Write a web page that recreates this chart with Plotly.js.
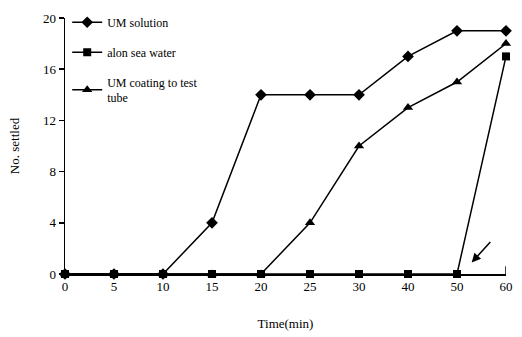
<!DOCTYPE html>
<html><head><meta charset="utf-8">
<script src="https://cdn.plot.ly/plotly-3.0.1.min.js"></script>
<style>html,body{margin:0;padding:0;background:#fff}</style>
</head><body>
<div id="chart" style="width:522px;height:337px"></div>
<script>
var timeLabels = ['0','5','10','15','20','25','30','40','50','60'];
var umSolution = [0,0,0,4,14,14,14,17,19,19];
var alonSeaWater = [0,0,0,0,0,0,0,0,0,17];
var umCoating = [0,0,0,0,0,4,10,13,15,18];
var seriesNames = ['UM solution','alon sea water','UM coating to test<br>tube'];

var idx = timeLabels.map(function(_, i){return i;});
function tr(y, name, sym, size, g){
  return {x: idx, y: y, name: name, type:'scatter', mode:'lines+markers',
    line:{color:'#000', width:1.5}, marker:{symbol:sym, size:size, color:'#000'},
    cliponaxis:false, legendgroup:g};
}
var data = [
  tr(umSolution, seriesNames[0], 'diamond', 9, 'a'),
  tr(alonSeaWater, seriesNames[1], 'square', 8, 'b'),
  tr(umCoating, seriesNames[2], 'triangle-up', 9, 'c')
];
var fam = '"Liberation Serif","Times New Roman",serif';
var layout = {
  width:522, height:337,
  margin:{l:65, r:16, t:18, b:63, autoexpand:false},
  paper_bgcolor:'#fff', plot_bgcolor:'#fff',
  font:{family:fam, color:'#000', size:13},
  showlegend:true,
  legend:{x:0.005, y:1.04, xanchor:'left', yanchor:'top', bgcolor:'rgba(0,0,0,0)',
    font:{family:fam, size:12, color:'#000'}, tracegroupgap:11, itemwidth:30},
  xaxis:{range:[0,9], tickvals:idx, ticktext:timeLabels, showgrid:false, zeroline:false,
    showline:true, linecolor:'#000', linewidth:1.5, ticks:'', tickfont:{size:13},
    title:{text:'Time(min)', font:{size:13}, standoff:26}},
  yaxis:{range:[0,20], tickvals:[0,4,8,12,16,20], showgrid:false, zeroline:false,
    showline:true, linecolor:'#000', linewidth:1.5, ticks:'outside', ticklen:5, tickwidth:1.5,
    tickcolor:'#000', tickfont:{size:13},
    title:{text:'No. settled', font:{size:13}, standoff:20}},
  shapes:[{type:'line', xref:'x', yref:'paper', x0:9, x1:9, y0:0, y1:0.03, line:{color:'#000', width:1.5}}],
  annotations:[{x:8.3, y:0.9, xref:'x', yref:'y', text:'', showarrow:true,
    arrowhead:2, arrowsize:1.2, arrowwidth:1.5, arrowcolor:'#000', ax:20, ay:-22}]
};
Plotly.newPlot('chart', data, layout, {displayModeBar:false, staticPlot:true});
</script>
</body></html>
